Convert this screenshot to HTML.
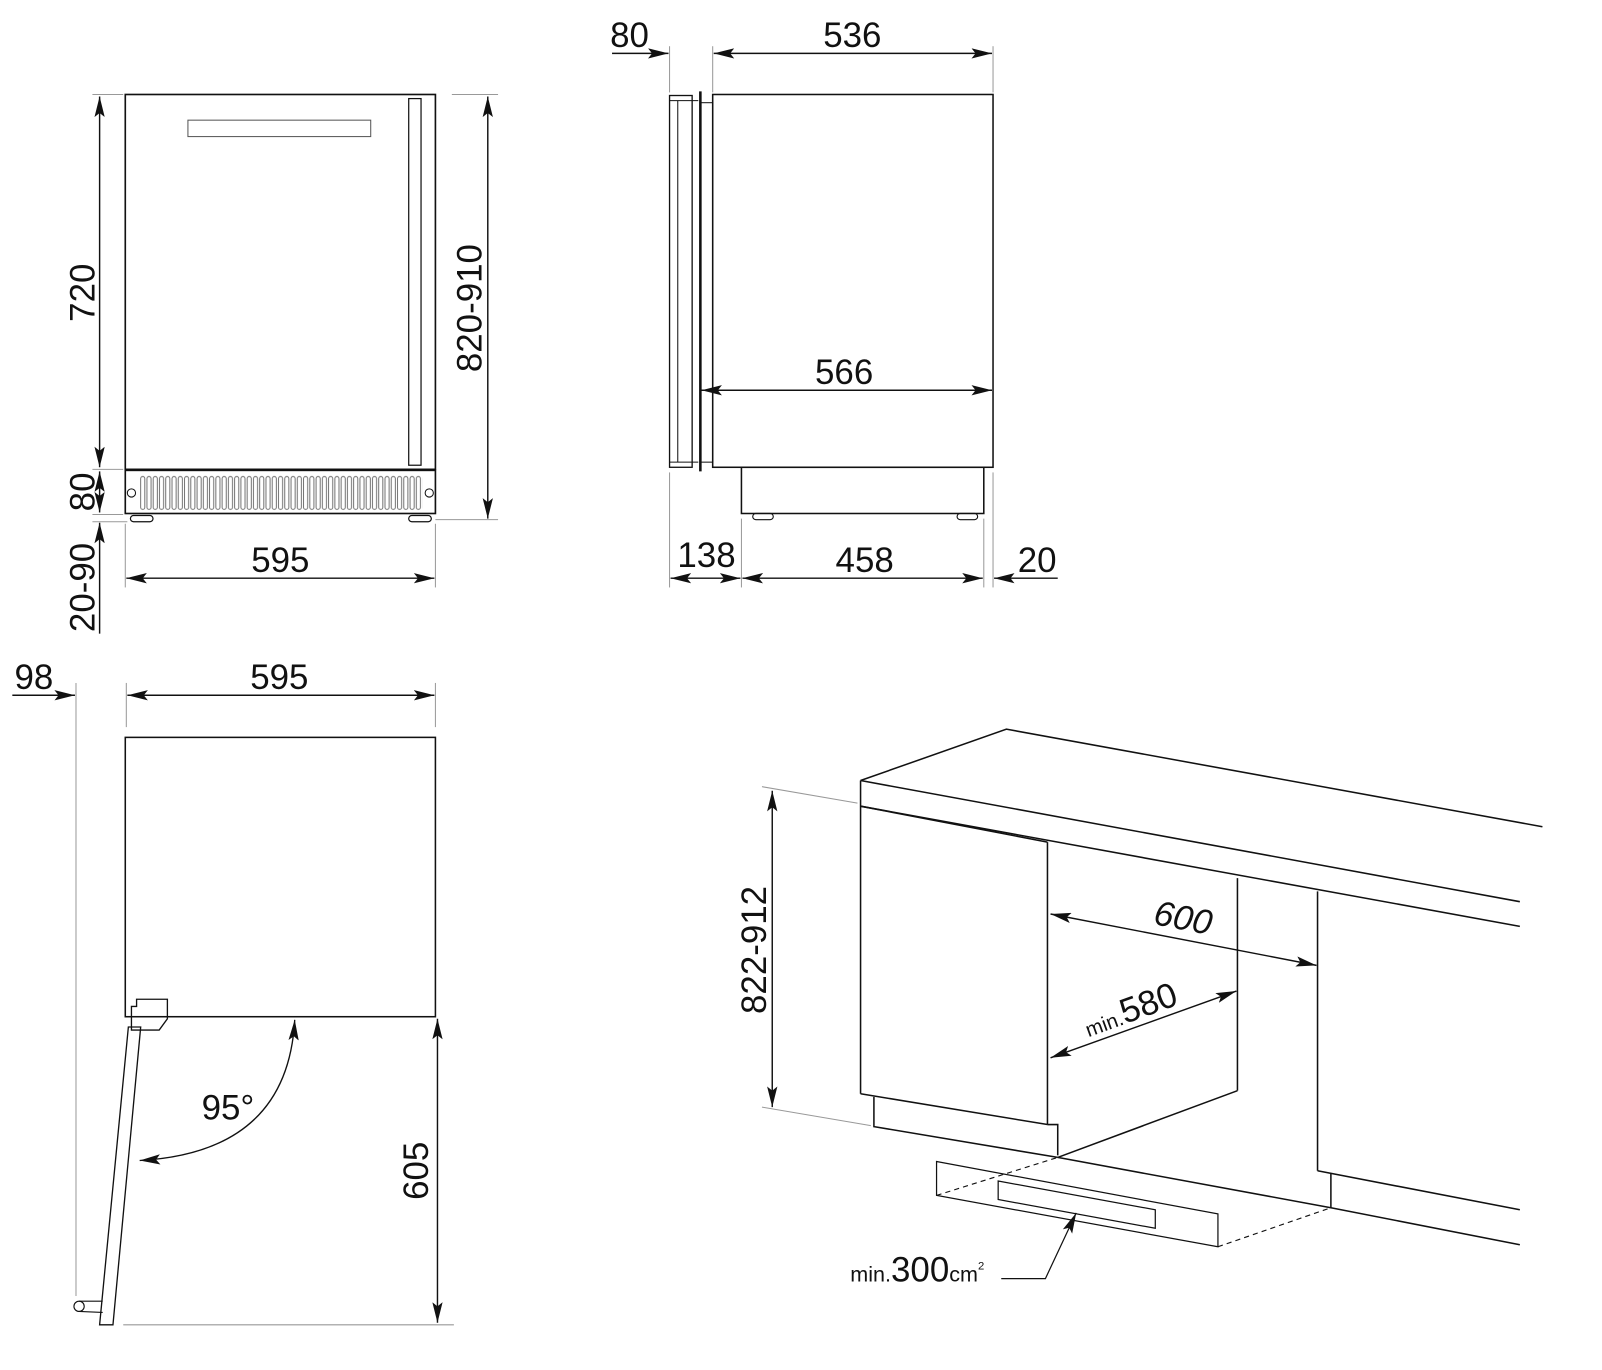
<!DOCTYPE html>
<html><head><meta charset="utf-8"><style>
html,body{margin:0;padding:0;background:#fff;}
svg{display:block}
text{font-family:"Liberation Sans",sans-serif;fill:#111;}
</style></head><body>
<svg width="1602" height="1370" viewBox="0 0 1560 1334" preserveAspectRatio="none" xmlns="http://www.w3.org/2000/svg">
<defs>
<marker id="a" viewBox="0 0 20 10" refX="20" refY="5" markerWidth="20" markerHeight="10" markerUnits="userSpaceOnUse" orient="auto-start-reverse"><path d="M0,0 L20,5 L0,10 L4,5 Z" fill="#111"/></marker>
<pattern id="vent" x="136" y="0" width="6.1" height="600" patternUnits="userSpaceOnUse"><rect x="1" y="464" width="4" height="32" rx="2" fill="none" stroke="#666" stroke-width="0.9"/></pattern>
</defs>
<g fill="none" stroke="#111" stroke-width="1.6">
<!-- FRONT VIEW -->
<rect x="122" y="92" width="302" height="365"/>
<rect x="398" y="96" width="12" height="357" stroke-width="1.2"/>
<rect x="183" y="117" width="178" height="16" stroke="#555" stroke-width="1"/>
<rect x="122" y="458" width="302" height="42"/>
<rect x="136" y="462" width="275" height="36" fill="url(#vent)" stroke="none"/>
<circle cx="128" cy="480" r="4" stroke-width="1"/><circle cx="418" cy="480" r="4" stroke-width="1"/>
<rect x="127" y="502" width="22" height="6" rx="3" stroke-width="1.2"/><rect x="398" y="502" width="22" height="6" rx="3" stroke-width="1.2"/>
</g>
<g stroke="#999" stroke-width="1" fill="none">
<line x1="90" y1="92" x2="120" y2="92"/><line x1="90" y1="457" x2="120" y2="457"/><line x1="90" y1="501" x2="120" y2="501"/><line x1="90" y1="508" x2="124" y2="508"/>
<line x1="440" y1="92" x2="485" y2="92"/><line x1="424" y1="506" x2="485" y2="506"/>
<line x1="122" y1="510" x2="122" y2="572"/><line x1="424" y1="510" x2="424" y2="572"/>
</g>
<g stroke="#111" stroke-width="1.4" fill="none">
<line x1="97" y1="94" x2="97" y2="455" marker-start="url(#a)" marker-end="url(#a)"/>
<line x1="97" y1="459" x2="97" y2="499" marker-start="url(#a)" marker-end="url(#a)"/>
<line x1="97" y1="617" x2="97" y2="509" marker-end="url(#a)"/>
<line x1="475" y1="94" x2="475" y2="505" marker-start="url(#a)" marker-end="url(#a)"/>
<line x1="123" y1="563" x2="423" y2="563" marker-start="url(#a)" marker-end="url(#a)"/>
</g>
<g font-size="34">
<text transform="translate(92,285) rotate(-90)" text-anchor="middle">720</text>
<text transform="translate(92,479) rotate(-90)" text-anchor="middle">80</text>
<text transform="translate(92,572) rotate(-90)" text-anchor="middle">20-90</text>
<text transform="translate(469,300) rotate(-90)" text-anchor="middle">820-910</text>
<text x="273" y="557" text-anchor="middle">595</text>
</g>

<!-- SIDE VIEW -->
<g fill="none" stroke="#111" stroke-width="1.5">
<rect x="652" y="93" width="22" height="362" stroke-width="1.3"/>
<line x1="660" y1="98" x2="660" y2="450" stroke-width="1"/>
<line x1="652" y1="98" x2="680" y2="98" stroke-width="1"/><line x1="652" y1="450" x2="680" y2="450" stroke-width="1"/>
<line x1="682" y1="89" x2="682" y2="459" stroke-width="2.5"/>
<rect x="682" y="100" width="12" height="350" stroke-width="1"/>
<rect x="694" y="92" width="273" height="363"/>
<rect x="722" y="455" width="236" height="45"/>
<rect x="733" y="500" width="20" height="6" rx="3" stroke-width="1.1"/><rect x="932" y="500" width="20" height="6" rx="3" stroke-width="1.1"/>
</g>
<g stroke="#999" stroke-width="1">
<line x1="652" y1="45" x2="652" y2="90"/><line x1="694" y1="45" x2="694" y2="90"/><line x1="967" y1="45" x2="967" y2="90"/>
<line x1="652" y1="460" x2="652" y2="572"/><line x1="722" y1="505" x2="722" y2="572"/><line x1="958" y1="505" x2="958" y2="572"/><line x1="967" y1="460" x2="967" y2="572"/>
</g>
<g stroke="#111" stroke-width="1.4" fill="none">
<line x1="596" y1="52" x2="651" y2="52" marker-end="url(#a)"/>
<line x1="695" y1="52" x2="966" y2="52" marker-start="url(#a)" marker-end="url(#a)"/>
<line x1="683" y1="380" x2="966" y2="380" marker-start="url(#a)" marker-end="url(#a)"/>
<line x1="653" y1="563" x2="721" y2="563" marker-start="url(#a)" marker-end="url(#a)"/>
<line x1="723" y1="563" x2="957" y2="563" marker-start="url(#a)" marker-end="url(#a)"/>
<line x1="1030" y1="563" x2="968" y2="563" marker-end="url(#a)"/>
</g>
<g font-size="34">
<text x="613" y="46" text-anchor="middle">80</text>
<text x="830" y="46" text-anchor="middle">536</text>
<text x="822" y="374" text-anchor="middle">566</text>
<text x="688" y="552" text-anchor="middle">138</text>
<text x="842" y="557" text-anchor="middle">458</text>
<text x="1010" y="557" text-anchor="middle">20</text>
</g>

<!-- TOP VIEW -->
<g fill="none" stroke="#111" stroke-width="1.5">
<rect x="122" y="718" width="302" height="272"/>
<path d="M128,980 L133,980 L133,973 L163,973 L163,992 L155,1003 L128,1003 Z" stroke-width="1.3"/>
<path d="M125,1000 L137,1000 L110,1290 L97,1290 Z" stroke-width="1.3"/>
<circle cx="77" cy="1272" r="5" stroke-width="1.1"/>
<path d="M77,1267 L100,1267 M77,1277 L100,1278" stroke-width="1.1"/>
<path d="M287,993 Q280,1122 136,1130" stroke-width="1.3" marker-start="url(#a)" marker-end="url(#a)"/>
</g>
<g stroke="#999" stroke-width="1">
<line x1="74" y1="665" x2="74" y2="1262"/><line x1="123" y1="665" x2="123" y2="708"/><line x1="424" y1="665" x2="424" y2="708"/>
<line x1="120" y1="1290" x2="442" y2="1290"/>
</g>
<g stroke="#111" stroke-width="1.4" fill="none">
<line x1="12" y1="677" x2="73" y2="677" marker-end="url(#a)"/>
<line x1="124" y1="677" x2="423" y2="677" marker-start="url(#a)" marker-end="url(#a)"/>
<line x1="426" y1="992" x2="426" y2="1288" marker-start="url(#a)" marker-end="url(#a)"/>
</g>
<g font-size="34">
<text x="33" y="671" text-anchor="middle">98</text>
<text x="272" y="671" text-anchor="middle">595</text>
<text x="222" y="1090" text-anchor="middle">95°</text>
<text transform="translate(417,1140) rotate(-90)" text-anchor="middle">605</text>
</g>

<!-- ISOMETRIC -->
<g fill="none" stroke="#111" stroke-width="1.5">
<path d="M838,760 L980,710 L1502,805"/>
<path d="M838,760 L1480,878"/>
<path d="M838,785 L1480,902"/>
<line x1="838" y1="760" x2="838" y2="1065"/>
<path d="M838,1065 L1020,1095"/>
<path d="M838,785 L1020,820"/>
<line x1="1020" y1="820" x2="1020" y2="1095"/>
<path d="M1020,1095 L1030,1095 L1030,1125"/>
<path d="M851,1068 L851,1097 L1030,1127"/>
<line x1="1205" y1="855" x2="1205" y2="1062"/>
<path d="M1030,1127 L1205,1062"/>
<line x1="1283" y1="868" x2="1283" y2="1140"/>
<path d="M1283,1140 L1480,1178"/>
<path d="M1030,1127 L1296,1176 L1480,1212"/>
<line x1="1296" y1="1143" x2="1296" y2="1176"/>
<path d="M912,1131 L1186,1182 L1186,1214 L912,1164 Z" stroke-width="1.2"/>
<path d="M972,1150 L1125,1178 L1125,1196 L972,1168 Z" stroke-width="1.2"/>
<path d="M912,1164 L1030,1127" stroke-dasharray="5,4" stroke-width="1.1"/>
<path d="M1186,1214 L1296,1176" stroke-dasharray="5,4" stroke-width="1.1"/>
<path d="M975,1245 L1018,1245 L1048,1181" stroke-width="1.2" marker-end="url(#a)"/>
</g>
<g stroke="#999" stroke-width="1">
<line x1="742" y1="766" x2="835" y2="782"/><line x1="742" y1="1078" x2="848" y2="1096"/>
</g>
<g stroke="#111" stroke-width="1.4" fill="none">
<line x1="752" y1="770" x2="752" y2="1078" marker-start="url(#a)" marker-end="url(#a)"/>
<line x1="1023" y1="890" x2="1282" y2="940" marker-start="url(#a)" marker-end="url(#a)"/>
<line x1="1023" y1="1030" x2="1204" y2="965" marker-start="url(#a)" marker-end="url(#a)"/>
</g>
<g font-size="34">
<text transform="translate(746,925) rotate(-90)" text-anchor="middle">822-912</text>
<text transform="translate(1150,905) rotate(11)" text-anchor="middle" font-style="italic">600</text>
<text transform="translate(1060,1010) rotate(-20)"><tspan font-size="20">min.</tspan><tspan font-size="34">580</tspan></text>
<text x="828" y="1248"><tspan font-size="21">min.</tspan><tspan font-size="34">300</tspan><tspan font-size="21">cm</tspan><tspan font-size="11" dy="-12">2</tspan></text>
</g>
</svg>
</body></html>
